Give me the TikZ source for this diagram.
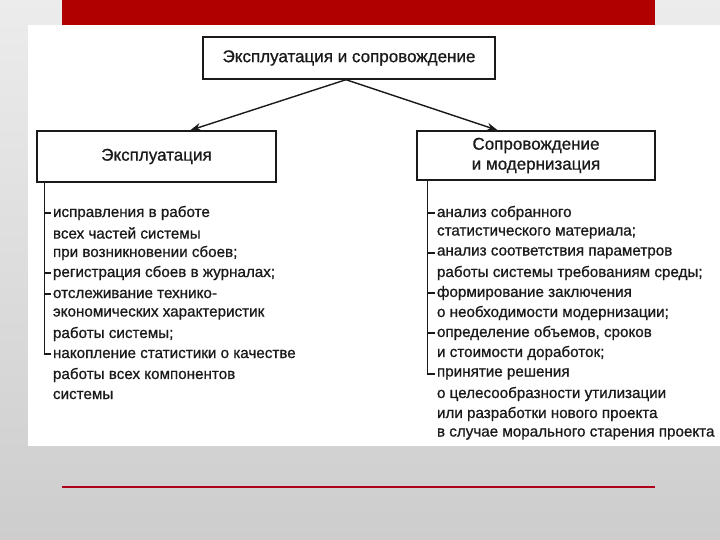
\documentclass[tikz,border=0pt]{standalone}
\usepackage{fontspec}
\setmainfont{Liberation Sans}
\newfontfamily\scanfont[FakeBold=0.8]{Liberation Sans}
\usetikzlibrary{arrows.meta,calc}
\definecolor{barred}{HTML}{B00000}
\definecolor{linered}{HTML}{B0001A}
\definecolor{ink}{HTML}{1A1A1A}
\tikzset{
  titlebox/.style={draw=ink,line width=1.4pt,fill=white,inner sep=0pt,align=center,
    font=\scanfont\fontsize{17}{20}\selectfont,text=ink},
  item/.style={anchor=west,inner ysep=0pt,inner xsep=0pt,outer xsep=2pt,font=\scanfont\fontsize{15.2}{17}\selectfont,text=ink},
  brk/.style={draw=ink,line width=1.4pt},
  arr/.style={draw=ink,line width=1.4pt,-{Stealth[length=11pt,width=8pt]}}
}
\begin{document}
\begin{tikzpicture}[x=1pt,y=-1pt]
\useasboundingbox (0,0) rectangle (720,540);
\shade[top color={rgb,255:red,236;green,236;blue,236},bottom color={rgb,255:red,205;green,205;blue,205}] (0,0) rectangle (720,540);
\fill[white] (28,25) rectangle (720,446);
\fill[barred] (62,0) rectangle (655,25);
\draw[linered,line width=2pt] (62,487) -- (655,487);

\node[titlebox,minimum width=292pt,minimum height=42pt] (top) at (349,58) {Эксплуатация и сопровождение};
\node[titlebox,minimum width=239pt,minimum height=51pt] (lbox) at (156.5,156.5) {Эксплуатация};
\node[titlebox,minimum width=238pt,minimum height=49pt] (rbox) at (536,155.5) {Сопровождение\\и модернизация};

\draw[arr] ($(top.south)+(-3,0)$) -- ($(lbox.north west)!0.64!(lbox.north east)$);
\draw[arr] ($(top.south)+(-3,0)$) -- ($(rbox.north west)!0.34!(rbox.north east)$);

% left list
\node[item] (l1) at (51,213) {исправления в работе};
\node[item] (l2) at (51,233) {всех частей системы};
\node[item] (l3) at (51,253) {при возникновении сбоев;};
\node[item] (l4) at (51,273) {регистрация сбоев в журналах;};
\node[item] (l5) at (51,294) {отслеживание технико-};
\node[item] (l6) at (51,314) {экономических характеристик};
\node[item] (l7) at (51,334) {работы системы;};
\node[item] (l8) at (51,354) {накопление статистики о качестве};
\node[item] (l9) at (51,375) {работы всех компонентов};
\node[item] (l10) at (51,395) {системы};
\coordinate (lb) at ($(lbox.south west)+(8,0)$);
\draw[brk] (lb) |- (l8.west);
\foreach \i in {1,4,5}{\draw[brk] (l\i.west -| lb) -- (l\i.west);}

% right list
\node[item] (r1) at (435,213) {анализ собранного};
\node[item] (r2) at (435,233) {статистического материала;};
\node[item] (r3) at (435,253) {анализ соответствия параметров};
\node[item] (r4) at (435,273) {работы системы требованиям среды;};
\node[item] (r5) at (435,293) {формирование заключения};
\node[item] (r6) at (435,313) {о необходимости модернизации;};
\node[item] (r7) at (435,333) {определение объемов, сроков};
\node[item] (r8) at (435,353) {и стоимости доработок;};
\node[item] (r9) at (435,374) {принятие решения};
\node[item] (r10) at (435,394) {о целесообразности утилизации};
\node[item] (r11) at (435,414) {или разработки нового проекта};
\node[item] (r12) at (435,434) {в случае морального старения проекта};
\coordinate (rb) at ($(rbox.south west)+(11,0)$);
\draw[brk] (rb) |- (r9.west);
\foreach \i in {1,3,5,7}{\draw[brk] (r\i.west -| rb) -- (r\i.west);}
\end{tikzpicture}
\end{document}
